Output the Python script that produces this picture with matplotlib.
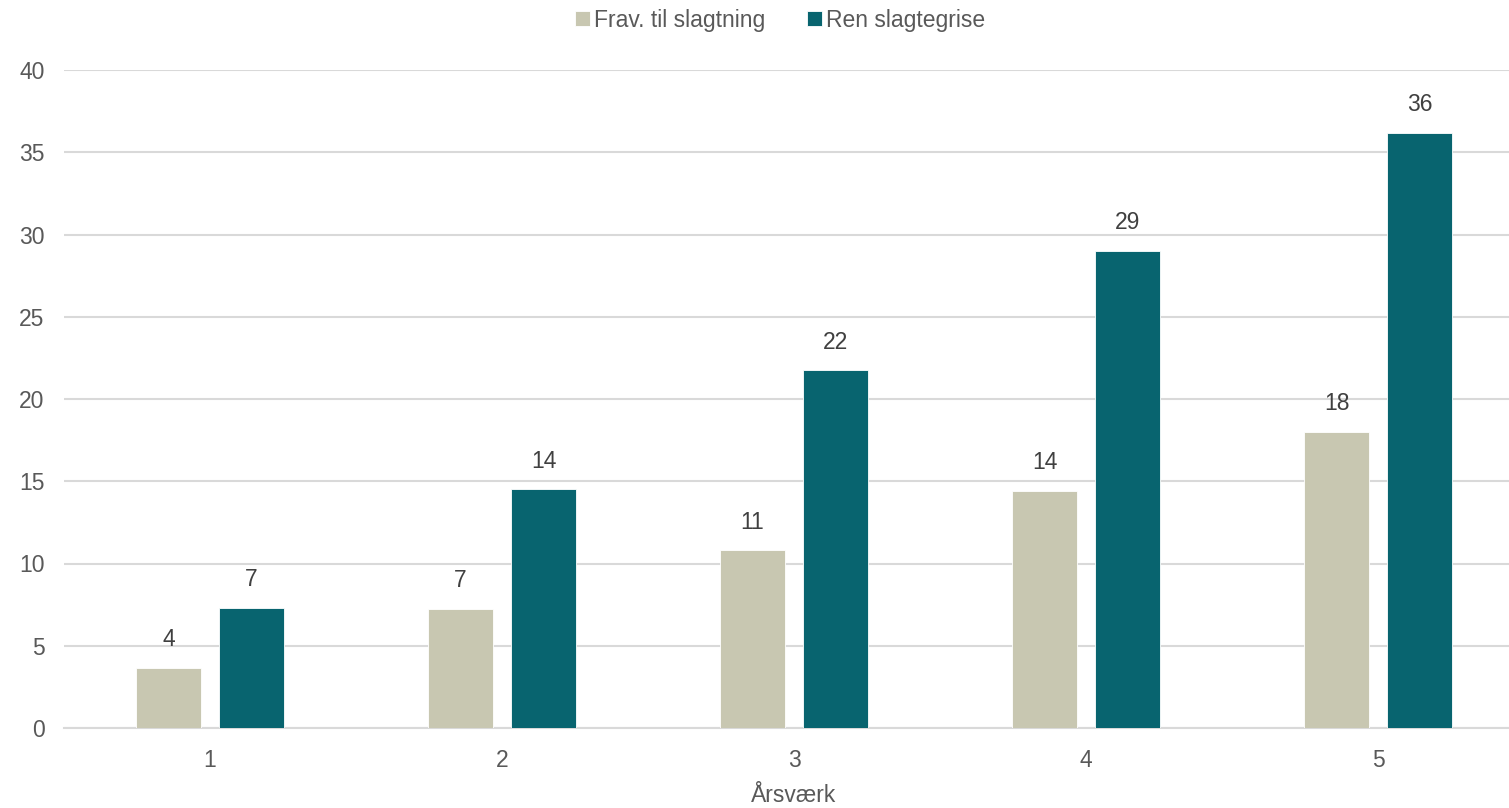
import numpy as np
import matplotlib.pyplot as plt

plt.rcParams['font.family'] = ['Liberation Sans', 'DejaVu Sans']

years = [1, 2, 3, 4, 5]
frav = [3.65, 7.25, 10.8, 14.4, 18.0]
ren = [7.3, 14.5, 21.75, 29.0, 36.2]
series_names = ['Frav. til slagtning', 'Ren slagtegrise']
colors = ['#C8C7B1', '#08646F']

fig = plt.figure(figsize=(15.09, 8.08), dpi=100)
ax = fig.add_axes([64 / 1509, 80 / 808, 1 - 64 / 1509, 658 / 808])

x = np.arange(len(years))
w = 0.2226
off = 0.142
b1 = ax.bar(x - off, frav, w, color=colors[0], edgecolor='white', linewidth=0.6, label=series_names[0], zorder=3)
b2 = ax.bar(x + off, ren, w, color=colors[1], edgecolor='white', linewidth=0.6, label=series_names[1], zorder=3)

for bars, vals in [(b1, frav), (b2, ren)]:
    for r, v in zip(bars, vals):
        ax.annotate('{:.0f}'.format(v), (r.get_x() + r.get_width() / 2, v),
                    xytext=(0, 12), textcoords='offset points',
                    ha='center', va='bottom', fontsize=16.5, color='#404040')

ax.set_ylim(0, 40)
ax.set_yticks(range(0, 41, 5))
ax.set_xlim(-0.5, -0.5 + 1445 / 292)
ax.set_xticks(x)
ax.set_xticklabels([str(y) for y in years])
ax.grid(axis='y', color='#D9D9D9', linewidth=1.5, zorder=0)
for s in ['top', 'right', 'left']:
    ax.spines[s].set_visible(False)
ax.spines['bottom'].set_color('#D9D9D9')
ax.spines['bottom'].set_linewidth(1.5)
ax.tick_params(axis='both', length=0, labelsize=16.5, labelcolor='#595959')
ax.tick_params(axis='y', pad=14)
ax.tick_params(axis='x', pad=15)

fig.text(794 / 1509, 1 - 796 / 808, 'Årsværk', ha='center', va='center', fontsize=16.5, color='#595959')

fig.legend(loc='center', bbox_to_anchor=(780 / 1509, 1 - 20 / 808), ncol=2, frameon=False,
           fontsize=16.5, handlelength=0.65, handleheight=0.65, handletextpad=0.2,
           columnspacing=1.8, labelcolor='#595959')

plt.savefig('out.png', dpi=100)
